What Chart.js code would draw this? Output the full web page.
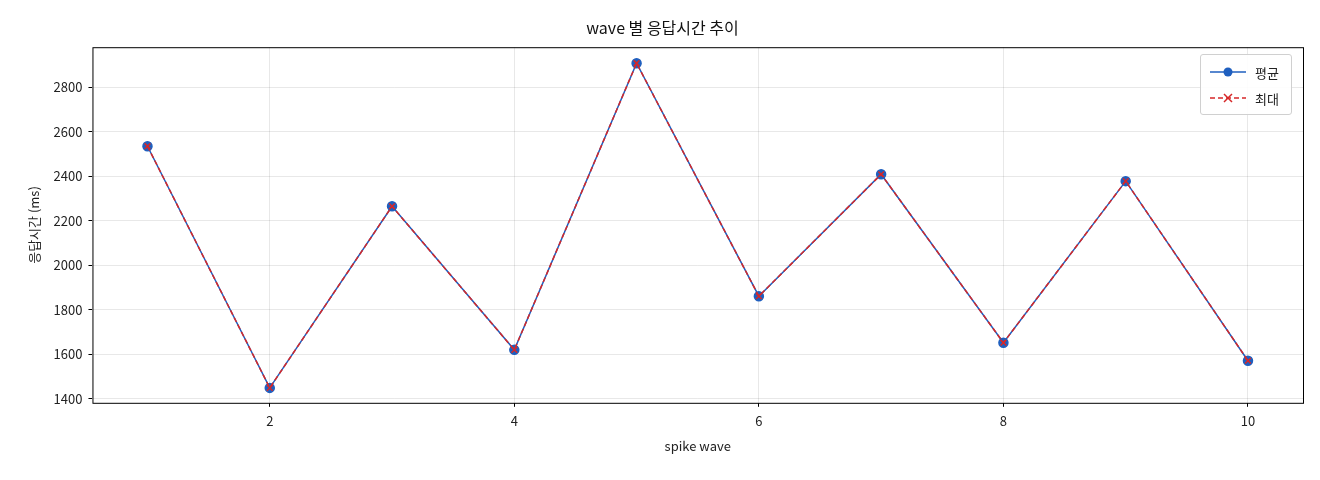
<!DOCTYPE html>
<html>
<head>
<meta charset="utf-8">
<script src="https://cdn.jsdelivr.net/npm/chart.js@4.4.1/dist/chart.umd.min.js"></script>
<style>
  body { margin: 0; background: #fff; }
  #wrap { position: relative; width: 1320px; height: 480px; }
  #legend {
    position: absolute; left: 1200px; top: 54px; width: 92px; height: 61px;
    border: 1px solid #d0d0d0; border-radius: 3px; background: rgba(255,255,255,0.9);
    font-family: "Noto Sans CJK KR", sans-serif; font-size: 13px; color: #222;
    box-sizing: border-box; padding: 4px 8px;
  }
  .row { display: flex; align-items: center; height: 26px; }
  .row canvas { margin-right: 8px; }
</style>
</head>
<body>
<div id="wrap">
  <canvas id="chart" width="1320" height="480"></canvas>
  <div id="legend">
    <div class="row"><canvas id="lg1" width="38" height="14"></canvas>평균</div>
    <div class="row"><canvas id="lg2" width="38" height="14"></canvas>최대</div>
  </div>
</div>
<script>
// 데이터
const waves = [1, 2, 3, 4, 5, 6, 7, 8, 9, 10];
const avgMs = [2535, 1449, 2265, 1620, 2908, 1861, 2409, 1652, 2378, 1571];
const maxMs = [2535, 1449, 2265, 1620, 2908, 1861, 2409, 1652, 2378, 1571];
const xTicks = [2, 4, 6, 8, 10];
const yTicks = [1400, 1600, 1800, 2000, 2200, 2400, 2600, 2800];

const BLUE = '#1f5fbf';
const RED = '#d62728';
const FONT = '"Noto Sans CJK KR", "DejaVu Sans", sans-serif';

Chart.defaults.font.family = FONT;
Chart.defaults.color = '#222';

// 축 테두리
const frame = {
  id: 'frame',
  afterDraw(chart) {
    const { ctx, chartArea: a } = chart;
    ctx.save();
    ctx.strokeStyle = '#000';
    ctx.lineWidth = 1;
    ctx.strokeRect(a.left + 0.5, a.top + 0.5, a.right - a.left, a.bottom - a.top);
    ctx.restore();
  }
};

new Chart(document.getElementById('chart'), {
  type: 'line',
  data: {
    datasets: [{
      label: '평균',
      data: waves.map((w, i) => ({ x: w, y: avgMs[i] })),
      borderColor: BLUE, backgroundColor: BLUE, order: 1,
      borderWidth: 1.5, pointRadius: 4.5, pointStyle: 'circle', tension: 0
    }, {
      label: '최대',
      data: waves.map((w, i) => ({ x: w, y: maxMs[i] })),
      borderColor: RED, backgroundColor: RED, order: 0,
      borderWidth: 1.5, borderDash: [5, 3], pointRadius: 4, pointStyle: 'crossRot',
      pointBorderWidth: 1.5, tension: 0
    }]
  },
  options: {
    responsive: false, animation: false, devicePixelRatio: 1,
    layout: { padding: { left: 22, right: 17, top: 6, bottom: 22 } },
    scales: {
      x: {
        type: 'linear', min: 0.55, max: 10.45,
        afterBuildTicks: s => { s.ticks = xTicks.map(v => ({ value: v })); },
        ticks: { font: { size: 13 }, padding: 6, callback: v => String(v) },
        grid: { color: 'rgba(0,0,0,0.09)', tickLength: 4, tickColor: '#000' },
        border: { display: false },
        title: { display: true, text: 'spike wave', font: { size: 13 }, padding: { top: 4 } }
      },
      y: {
        min: 1382, max: 2980,
        afterBuildTicks: s => { s.ticks = yTicks.map(v => ({ value: v })); },
        ticks: { font: { size: 13 }, padding: 6, callback: v => String(v) },
        grid: { color: 'rgba(0,0,0,0.09)', tickLength: 4, tickColor: '#000' },
        border: { display: false },
        title: { display: true, text: '응답시간 (ms)', font: { size: 13 }, padding: { bottom: 6 } }
      }
    },
    plugins: {
      legend: { display: false },
      tooltip: { enabled: false },
      title: { display: true, text: 'wave 별 응답시간 추이', font: { size: 16, weight: 'normal' }, color: '#111', padding: { top: 12, bottom: 10 } }
    }
  },
  plugins: [frame]
});

// 범례 아이콘
function legendIcon(id, color, dash, marker) {
  const c = document.getElementById(id).getContext('2d');
  c.strokeStyle = color; c.fillStyle = color; c.lineWidth = 1.5;
  c.setLineDash(dash);
  c.beginPath(); c.moveTo(1, 7); c.lineTo(37, 7); c.stroke();
  c.setLineDash([]);
  if (marker === 'o') {
    c.beginPath(); c.arc(19, 7, 4.5, 0, Math.PI * 2); c.fill();
  } else {
    c.beginPath(); c.moveTo(15, 3); c.lineTo(23, 11); c.moveTo(23, 3); c.lineTo(15, 11); c.stroke();
  }
}
legendIcon('lg1', BLUE, [], 'o');
legendIcon('lg2', RED, [5, 3], 'x');
</script>
</body>
</html>
